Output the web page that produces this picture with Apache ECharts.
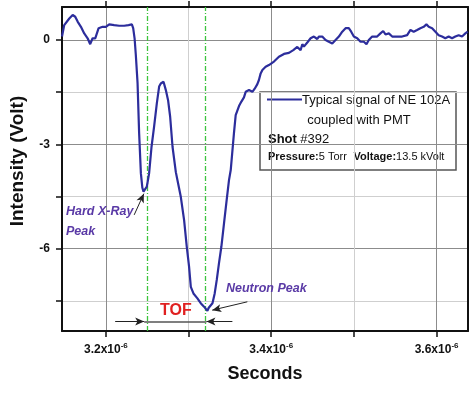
<!DOCTYPE html>
<html><head><meta charset="utf-8">
<script src="https://cdn.jsdelivr.net/npm/echarts@6/dist/echarts.min.js"></script>
<style>html,body{margin:0;padding:0;background:#fff}#c{width:474px;height:399px}</style>
</head><body><div id="c"></div>
<script>
// time in units of 1e-6 s
const timeUs = [3.1469,3.1496,3.1557,3.1598,3.1629,3.1658,3.1698,3.1738,3.1779,3.1810,3.1839,3.1871,3.1912,3.1960,3.2000,3.2040,3.2100,3.2161,3.2221,3.2274,3.2314,3.2330,3.2347,3.2362,3.2383,3.2402,3.2423,3.2441,3.2455,3.2471,3.2495,3.2523,3.2552,3.2583,3.2616,3.2644,3.2664,3.2682,3.2697,3.2725,3.2752,3.2777,3.2806,3.2846,3.2873,3.2906,3.2946,3.2978,3.3006,3.3027,3.3059,3.3107,3.3147,3.3187,3.3208,3.3228,3.3244,3.3260,3.3289,3.3316,3.3341,3.3368,3.3397,3.3429,3.3461,3.3489,3.3510,3.3549,3.3570,3.3610,3.3639,3.3670,3.3691,3.3711,3.3731,3.3751,3.3772,3.3800,3.3832,3.3851,3.3872,3.3893,3.3912,3.3932,3.3972,3.3993,3.4033,3.4053,3.4093,3.4154,3.4214,3.4234,3.4267,3.4315,3.4355,3.4376,3.4395,3.4436,3.4476,3.4496,3.4516,3.4537,3.4557,3.4576,3.4617,3.4657,3.4677,3.4697,3.4738,3.4778,3.4798,3.4818,3.4859,3.4899,3.4938,3.4967,3.4999,3.5040,3.5080,3.5120,3.5152,3.5180,3.5221,3.5281,3.5321,3.5354,3.5382,3.5422,3.5463,3.5523,3.5583,3.5644,3.5684,3.5723,3.5764,3.5804,3.5844,3.5877,3.5905,3.5946,3.5986,3.6025,3.6066,3.6106,3.6146,3.6187,3.6227,3.6267,3.6308,3.6348,3.6376];
const voltage = [0.10,0.43,0.62,0.72,0.67,0.53,0.38,0.19,0.05,-0.12,0.05,0.05,0.34,0.38,0.38,0.45,0.43,0.41,0.41,0.43,0.45,0.34,0.05,-0.43,-1.24,-2.68,-3.83,-4.25,-4.36,-4.35,-4.22,-3.83,-3.07,-2.49,-1.82,-1.34,-1.25,-1.30,-1.20,-1.44,-1.73,-2.20,-3.07,-3.80,-4.12,-4.51,-5.18,-5.94,-6.52,-7.10,-7.29,-7.43,-7.57,-7.67,-7.72,-7.79,-7.70,-7.72,-7.57,-7.29,-6.90,-6.42,-5.94,-5.27,-4.60,-4.03,-3.74,-2.68,-2.16,-1.90,-1.77,-1.65,-1.49,-1.44,-1.44,-1.39,-1.49,-1.40,-1.27,-1.15,-0.96,-0.86,-0.81,-0.77,-0.72,-0.70,-0.62,-0.58,-0.48,-0.40,-0.37,-0.34,-0.29,-0.20,-0.29,-0.12,-0.19,-0.07,0.05,0.05,0.10,0.14,0.03,0.10,0.10,0.00,0.00,-0.05,-0.10,0.00,0.05,0.10,0.24,0.34,0.34,0.24,0.10,0.05,-0.05,-0.05,-0.12,0.00,0.10,0.10,0.19,0.26,0.16,0.19,0.10,0.10,0.10,0.14,0.29,0.24,0.29,0.34,0.38,0.45,0.38,0.34,0.24,0.14,0.10,0.05,0.10,0.05,0.10,0.14,0.10,0.19,0.24];
const xAllTicks = [3.2, 3.3, 3.4, 3.5, 3.6];
const xLabelTicks = [3.2, 3.4, 3.6];
const yAllTicks = [-7.5, -6, -4.5, -3, -1.5, 0];
const yLabelTicks = [-6, -3, 0];
const peakTimes = [3.2463, 3.3216];
const tofY = -8.10;
const tofEnds = [3.2112, 3.3530];
const xrayArrow = [[3.2342, -5.03], [3.2459, -4.42]];
const neutronArrow = [[3.3711, -7.53], [3.3286, -7.77]];
const seriesName = 'Typical signal of NE 102A';

const FONT = 'Liberation Sans, Arial, Helvetica, sans-serif';
const LINE_COLOR = '#2c2d9c';
const PURPLE = '#5a3aa6';
const xMin = 3.1469, xMax = 3.638, yMin = -8.37, yMax = 0.95;

const chart = echarts.init(document.getElementById('c'), null, {renderer: 'canvas'});
const tickStyle = {show: true, inside: false, length: 6, lineStyle: {color: '#111', width: 1.5}};
const axisLine = {show: true, onZero: false, lineStyle: {color: '#111', width: 2}};

const annoLine = (a, b, arrowEnd, color) => [
  {coord: a, symbol: 'none', lineStyle: {color: color || '#222', width: color ? 1.5 : 1, type: 'solid'}},
  {coord: b, symbol: arrowEnd ? 'arrow' : 'none', symbolSize: [6, 9]}
];

chart.setOption({
  animation: false,
  grid: {left: 61, right: 6, top: 7, bottom: 68, containLabel: false},
  xAxis: [{
    type: 'value', min: xMin, max: xMax, position: 'bottom',
    name: 'Seconds', nameLocation: 'middle', nameGap: 34,
    nameTextStyle: {fontFamily: FONT, fontSize: 18, fontWeight: 'bold', color: '#111'},
    axisLine: axisLine,
    axisTick: Object.assign({customValues: xAllTicks}, tickStyle),
    axisLabel: {
      customValues: xLabelTicks, margin: 11,
      formatter: v => '{a|' + v.toFixed(1) + 'x10}{b|-6}',
      rich: {
        a: {fontFamily: FONT, fontSize: 12, fontWeight: 'bold', color: '#111', lineHeight: 16},
        b: {fontFamily: FONT, fontSize: 8, fontWeight: 'bold', color: '#111', verticalAlign: 'top', lineHeight: 8}
      }
    },
    splitLine: {show: true, lineStyle: {color: ['#8c8c8c', '#cfcfcf'], width: 1}}
  }, {
    type: 'value', min: xMin, max: xMax, position: 'top',
    axisLine: axisLine,
    axisTick: Object.assign({customValues: xAllTicks}, tickStyle),
    axisLabel: {show: false}, splitLine: {show: false}
  }],
  yAxis: [{
    type: 'value', min: yMin, max: yMax, position: 'left',
    name: 'Intensity (Volt)', nameLocation: 'middle', nameGap: 35,
    nameTextStyle: {fontFamily: FONT, fontSize: 19, fontWeight: 'bold', color: '#111', padding: [0, 0, 0, 16]},
    axisLine: axisLine,
    axisTick: Object.assign({customValues: yAllTicks}, tickStyle),
    axisLabel: {customValues: yLabelTicks, margin: 12, fontFamily: FONT, fontSize: 12, fontWeight: 'bold', color: '#111'},
    splitLine: {show: true, lineStyle: {color: ['#cfcfcf', '#8c8c8c'], width: 1}}
  }, {
    type: 'value', min: yMin, max: yMax, position: 'right',
    axisLine: axisLine, axisTick: {show: false}, axisLabel: {show: false}, splitLine: {show: false}
  }],
  series: [{
    name: seriesName, type: 'line', showSymbol: false, symbol: 'none',
    data: timeUs.map((t, i) => [t, voltage[i]]),
    lineStyle: {color: LINE_COLOR, width: 2.2}, z: 5,
    markLine: {
      silent: true, symbol: 'none', animation: false,
      label: {show: false},
      lineStyle: {color: '#3cc43c', width: 1.3, type: [5, 2, 1, 2]},
      data: peakTimes.map(t => ({xAxis: t})).concat([
        annoLine([tofEnds[0], tofY], [peakTimes[0], tofY], true),
        annoLine([tofEnds[1], tofY], [peakTimes[1], tofY], true),
        annoLine([peakTimes[0], tofY], [peakTimes[1], tofY], false, '#555'),
        annoLine(xrayArrow[0], xrayArrow[1], true),
        annoLine(neutronArrow[0], neutronArrow[1], true)
      ])
    }
  }],
  graphic: [
    {type: 'text', left: 66, top: 205, z: 20, style: {text: 'Hard X-Ray', font: 'italic bold 12.5px ' + FONT, fill: PURPLE}},
    {type: 'text', left: 66, top: 225, z: 20, style: {text: 'Peak', font: 'italic bold 12.5px ' + FONT, fill: PURPLE}},
    {type: 'text', left: 226, top: 282, z: 20, style: {text: 'Neutron Peak', font: 'italic bold 12.5px ' + FONT, fill: PURPLE}},
    {type: 'text', left: 160, top: 303, z: 20, style: {text: 'TOF', font: 'bold 16px ' + FONT, fill: '#e02020'}},
    {type: 'group', z: 30, children: [
      {type: 'rect', shape: {x: 260, y: 92, width: 196, height: 78}, style: {fill: '#fff', stroke: '#555', lineWidth: 1.5}},
      {type: 'line', shape: {x1: 267, y1: 99.5, x2: 302, y2: 99.5}, style: {stroke: LINE_COLOR, lineWidth: 2}},
      {type: 'text', x: 302, y: 100, style: {text: seriesName, font: '13px ' + FONT, fill: '#111', align: 'left', verticalAlign: 'middle', textAlign: 'left', textVerticalAlign: 'middle'}},
      {type: 'text', x: 359, y: 120, style: {text: 'coupled with PMT', font: '13px ' + FONT, fill: '#111', align: 'center', verticalAlign: 'middle', textAlign: 'center', textVerticalAlign: 'middle'}},
      {type: 'text', x: 268, y: 139, style: {text: '{b|Shot} {n|#392}', fill: '#111', align: 'left', verticalAlign: 'middle', textAlign: 'left', textVerticalAlign: 'middle',
        rich: {b: {font: 'bold 13px ' + FONT, fill: '#111'}, n: {font: '13px ' + FONT, fill: '#111'}}}},
      {type: 'text', x: 268, y: 157, style: {text: '{b|Pressure:}{n|5 Torr}  {b|Voltage:}{n|13.5 kVolt}', fill: '#111', align: 'left', verticalAlign: 'middle', textAlign: 'left', textVerticalAlign: 'middle',
        rich: {b: {font: 'bold 11px ' + FONT, fill: '#111'}, n: {font: '11px ' + FONT, fill: '#111'}}}}
    ]}
  ]
});
</script></body></html>
